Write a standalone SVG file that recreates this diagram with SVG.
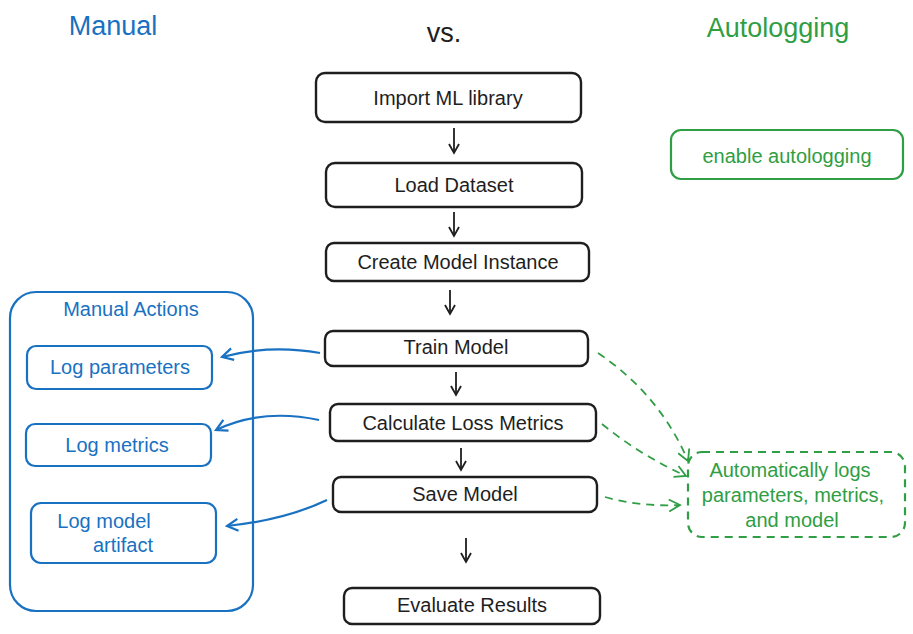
<svg xmlns="http://www.w3.org/2000/svg" width="913" height="634" viewBox="0 0 913 634">
<defs>
<style>
text{font-family:"Liberation Sans","Noto Sans",sans-serif;font-size:20px;text-anchor:middle;dominant-baseline:central}
.k{fill:#1e1e1e}.b{fill:#1971c2}.g{fill:#2f9e44}
.nk{fill:#fff;stroke:#1e1e1e;stroke-width:2.4}
.nb{fill:#fff;stroke:#1971c2;stroke-width:2.2}
.ng{fill:#fff;stroke:#2f9e44;stroke-width:2.2}
.ngd{fill:#fff;stroke:#2f9e44;stroke-width:2.2;stroke-dasharray:8 6}
.ak{fill:none;stroke:#1e1e1e;stroke-width:1.8}
.ab{fill:none;stroke:#1971c2;stroke-width:2.2}
.ag{fill:none;stroke:#2f9e44;stroke-width:1.8;stroke-dasharray:8 6}
.h{font-size:27px}
</style>
<marker id="mk" markerWidth="12" markerHeight="12" refX="10" refY="6" orient="auto" markerUnits="userSpaceOnUse"><path d="M1,1 L10,6 L1,11" fill="none" stroke="#1e1e1e" stroke-width="1.8"/></marker>
<marker id="mb" markerWidth="14" markerHeight="14" refX="12" refY="7" orient="auto" markerUnits="userSpaceOnUse"><path d="M1,1 L12,7 L1,13" fill="none" stroke="#1971c2" stroke-width="2.2"/></marker>
<marker id="mg" markerWidth="14" markerHeight="14" refX="12" refY="7" orient="auto" markerUnits="userSpaceOnUse"><path d="M1,1 L12,7 L1,13" fill="none" stroke="#2f9e44" stroke-width="1.8"/></marker>
</defs>
<rect width="913" height="634" fill="#fff"/>
<g id="titles">
<text class="b h" x="113" y="26">Manual</text>
<text class="k h" x="444" y="33">vs.</text>
<text class="g h" x="778" y="28">Autologging</text>
</g>
<g id="manual-actions">
<rect class="nb" x="10" y="292" width="243" height="319" rx="26"/>
<text class="b" x="131" y="309">Manual Actions</text>
</g>
<g id="import"><rect class="nk" x="316" y="73" width="265" height="49" rx="9"/><text class="k" x="448" y="98">Import ML library</text></g>
<g id="load"><rect class="nk" x="326" y="163" width="256" height="44" rx="9"/><text class="k" x="454" y="185">Load Dataset</text></g>
<g id="create"><rect class="nk" x="326" y="243" width="263" height="38" rx="8"/><text class="k" x="458" y="262">Create Model Instance</text></g>
<g id="train"><rect class="nk" x="325" y="331" width="263" height="35" rx="8"/><text class="k" x="456" y="347">Train Model</text></g>
<g id="calc"><rect class="nk" x="330" y="404" width="266" height="37" rx="8"/><text class="k" x="463" y="423">Calculate Loss Metrics</text></g>
<g id="save"><rect class="nk" x="333" y="477" width="264" height="35" rx="8"/><text class="k" x="465" y="494">Save Model</text></g>
<g id="evaluate"><rect class="nk" x="344" y="588" width="256" height="36" rx="8"/><text class="k" x="472" y="605">Evaluate Results</text></g>
<g id="enable"><rect class="ng" x="671" y="130" width="232" height="49" rx="10"/><text class="g" x="787" y="156">enable autologging</text></g>
<g id="auto"><rect class="ngd" x="688" y="452" width="217" height="85" rx="14"/>
<text class="g" x="790" y="470">Automatically logs</text>
<text class="g" x="793" y="495">parameters, metrics,</text>
<text class="g" x="792" y="520">and model</text></g>
<g id="log-params"><rect class="nb" x="27" y="346" width="185" height="43" rx="9"/><text class="b" x="120" y="367">Log parameters</text></g>
<g id="log-metrics"><rect class="nb" x="26" y="424" width="185" height="42" rx="9"/><text class="b" x="117" y="445">Log metrics</text></g>
<g id="log-model"><rect class="nb" x="31" y="503" width="185" height="60" rx="10"/><text class="b" x="104" y="521">Log model</text><text class="b" x="123" y="545">artifact</text></g>
<g id="connectors">
<path class="ak" marker-end="url(#mk)" d="M454,128 L454,153"/>
<path class="ak" marker-end="url(#mk)" d="M454,212 L454,236"/>
<path class="ak" marker-end="url(#mk)" d="M450,290 L450,314"/>
<path class="ak" marker-end="url(#mk)" d="M456,372 L456,395"/>
<path class="ak" marker-end="url(#mk)" d="M461,448 L461,470"/>
<path class="ak" marker-end="url(#mk)" d="M466,538 L466,562"/>
<path class="ab" marker-end="url(#mb)" d="M320,353 Q270,344 222,357"/>
<path class="ab" marker-end="url(#mb)" d="M319,420 Q262,408 216,430"/>
<path class="ab" marker-end="url(#mb)" d="M327,500 Q285,520 227,526"/>
<path class="ag" marker-end="url(#mg)" d="M598,353 Q660,395 688,461"/>
<path class="ag" marker-end="url(#mg)" d="M602,424 Q640,455 686,476"/>
<path class="ag" marker-end="url(#mg)" d="M605,497 Q640,507 680,505"/>
</g>
</svg>
